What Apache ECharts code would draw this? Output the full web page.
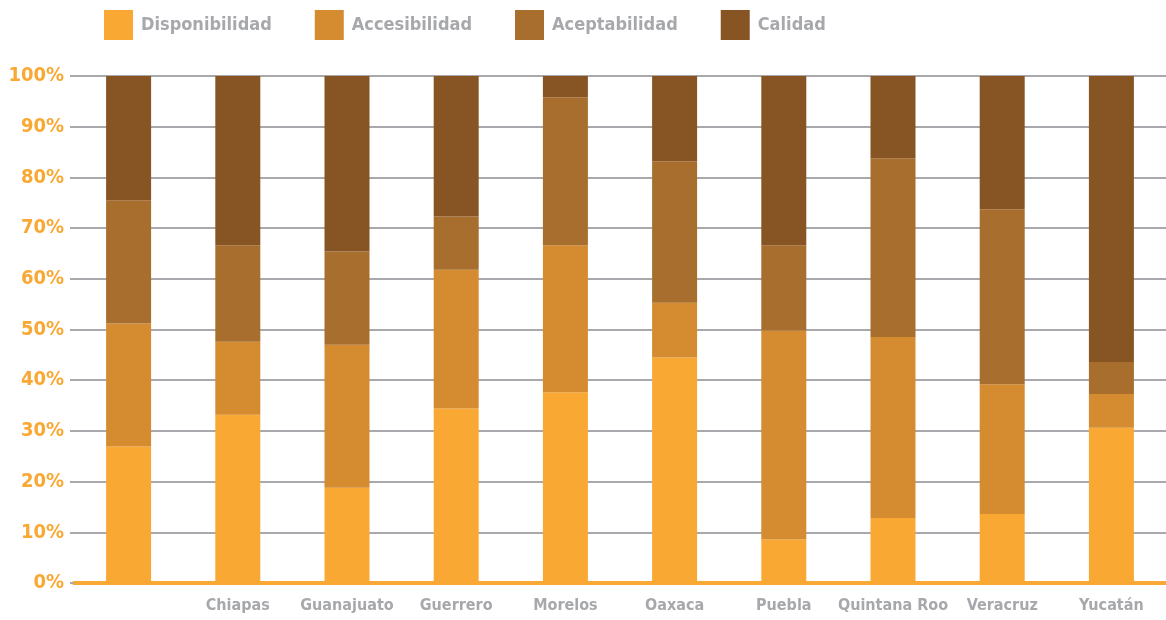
<!DOCTYPE html>
<html>
<head>
<meta charset="utf-8">
<script src="https://cdn.jsdelivr.net/npm/echarts@6/dist/echarts.min.js"></script>
<style>
html,body{margin:0;padding:0;background:#fff;}
#c{width:1166px;height:620px;}
</style>
</head>
<body>
<div id="c"></div>
<script>
const categories = ['', 'Chiapas', 'Guanajuato', 'Guerrero', 'Morelos', 'Oaxaca', 'Puebla', 'Quintana Roo', 'Veracruz', 'Yucatán'];
const disponibilidad = [26.9, 33.2, 18.8, 34.4, 37.6, 44.5, 8.6, 12.8, 13.6, 30.6];
const accesibilidad  = [24.3, 14.4, 28.2, 27.4, 29.0, 10.8, 41.2, 35.7, 25.6, 6.7];
const aceptabilidad  = [24.3, 19.0, 18.4, 10.5, 29.2, 27.9, 16.8, 35.3, 34.5, 6.3];
const calidad        = [24.5, 33.4, 34.6, 27.7, 4.2, 16.8, 33.4, 16.2, 26.3, 56.4];
const seriesNames = ['Disponibilidad', 'Accesibilidad', 'Aceptabilidad', 'Calidad'];
const colors = ['#F9A833', '#D58B30', '#A86E2D', '#875424'];

const FONT = "'DejaVu Sans Condensed', 'Liberation Sans Narrow', 'Roboto', sans-serif";
const chart = echarts.init(document.getElementById('c'));
const values = [disponibilidad, accesibilidad, aceptabilidad, calidad];
chart.setOption({
  animation: false,
  color: colors,
  textStyle: {fontFamily: FONT},
  legend: {
    left: 99, top: 5,
    itemWidth: 29, itemHeight: 30, itemGap: 43,
    icon: 'rect',
    textStyle: {color: '#A7A8AC', fontSize: 18, fontWeight: 'bold', fontFamily: FONT, padding: [0,0,0,3]},
    data: seriesNames
  },
  grid: {left: 74, width: 1098, top: 76, bottom: 37, containLabel: false},
  xAxis: {
    type: 'category', data: categories,
    axisLine: {lineStyle: {color: '#F9A833', width: 4}},
    axisTick: {show: false},
    axisLabel: {color: '#A7A8AC', fontSize: 16, fontWeight: 'bold', fontFamily: FONT, margin: 15, interval: 0}
  },
  yAxis: {
    type: 'value', min: 0, max: 100, interval: 10,
    axisLine: {show: false},
    axisTick: {show: true, length: 4, lineStyle: {color: '#A9A9AD', width: 2}},
    axisLabel: {formatter: '{value}%', color: '#F9A833', fontSize: 20, fontWeight: 'bold', fontFamily: FONT, margin: 10},
    splitLine: {lineStyle: {color: '#A9A9AD', width: 2}}
  },
  series: seriesNames.map((n, i) => ({
    name: n, type: 'bar', stack: 'total', barWidth: 45,
    data: values[i], itemStyle: {color: colors[i]}
  }))
});
</script>
</body>
</html>
